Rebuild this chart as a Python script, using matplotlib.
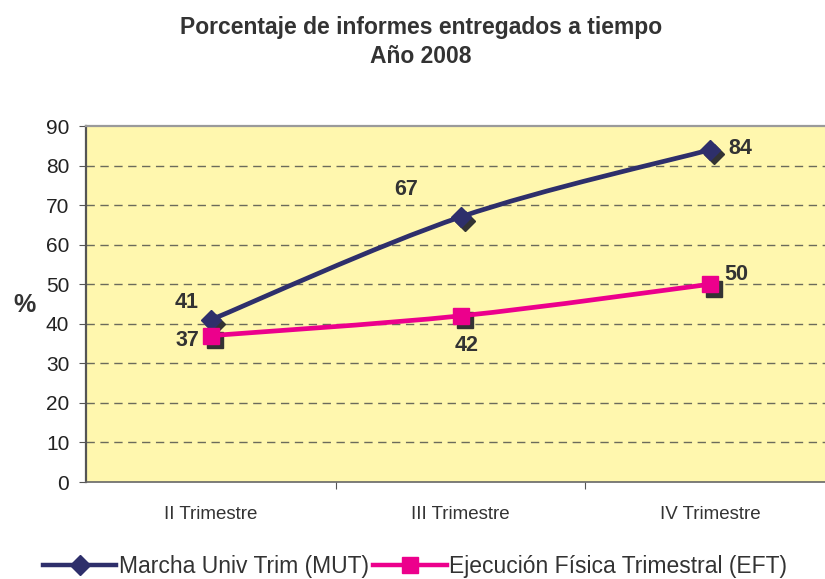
import matplotlib
matplotlib.use("Agg")
import matplotlib.pyplot as plt
from matplotlib.path import Path
from matplotlib.patches import PathPatch
from matplotlib.lines import Line2D
import matplotlib.transforms as mtransforms
import numpy as np

plt.rcParams['font.family'] = ['Liberation Sans', 'DejaVu Sans']

categories = ["II Trimestre", "III Trimestre", "IV Trimestre"]
mut_values = [41, 67, 84]
eft_values = [37, 42, 50]
series_names = ["Marcha Univ Trim (MUT)", "Ejecución Física Trimestral (EFT)"]
y_ticks = [0, 10, 20, 30, 40, 50, 60, 70, 80, 90]
title_text = "Porcentaje de informes entregados a tiempo\nAño 2008"

NAVY = "#2E2F6B"
PINK = "#EC008C"
SHADOW = "#333333"
TEXT = "#333333"
BG = "#FFF7AE"

fig = plt.figure(figsize=(8.25, 5.79), dpi=100)
ax = fig.add_axes([86/825, 97/579, (835-86)/825, (482-126)/579])
ax.set_facecolor(BG)
ax.set_xlim(-0.5, 2.5)
ax.set_ylim(0, 90)

x = np.arange(len(categories))


def smooth_path(xs, ys):
    pts = np.column_stack([xs, ys]).astype(float)
    n = len(pts)
    verts = [pts[0]]
    codes = [Path.MOVETO]
    for i in range(n - 1):
        p0 = pts[i - 1] if i > 0 else pts[i]
        p1 = pts[i]
        p2 = pts[i + 1]
        p3 = pts[i + 2] if i + 2 < n else pts[i + 1]
        c1 = p1 + (p2 - p0) / 6.0
        c2 = p2 - (p3 - p1) / 6.0
        verts += [c1, c2, p2]
        codes += [Path.CURVE4] * 3
    return Path(verts, codes)


# gridlines
for yv in y_ticks[1:-1]:
    ax.axhline(yv, color="#6b6b5b", lw=1.0, ls=(0, (6, 4)), zorder=1)

for vals, col in [(mut_values, NAVY), (eft_values, PINK)]:
    ax.add_patch(PathPatch(smooth_path(x, vals), facecolor="none",
                           edgecolor=col, lw=3.4, zorder=3, capstyle="butt"))

shadow_tr = mtransforms.offset_copy(ax.transData, fig=fig, x=4, y=-4.5, units="dots")
# shadows
ax.plot(x, mut_values, ls="none", marker="D", ms=10.5, color=SHADOW, transform=shadow_tr, zorder=2.5)
ax.plot(x, eft_values, ls="none", marker="s", ms=11.5, color=SHADOW, transform=shadow_tr, zorder=2.5)
# markers
ax.plot(x, mut_values, ls="none", marker="D", ms=10.5, color=NAVY, zorder=4)
ax.plot(x, eft_values, ls="none", marker="s", ms=11.5, color=PINK, zorder=4)

# data labels (offsets in pixels)
mut_offsets = [(-24, 17), (-54, 27), (30, 1)]
eft_offsets = [(-23, -5), (6, -30), (26, 10)]
for vals, offs in [(mut_values, mut_offsets), (eft_values, eft_offsets)]:
    for xi, v, (dx, dy) in zip(x, vals, offs):
        ax.annotate(str(v), (xi, v), xytext=(dx * 0.72, dy * 0.72), textcoords="offset points",
                    ha="center", va="center", fontsize=15.5, fontweight="bold", color=TEXT, zorder=5)

# axes styling
ax.set_yticks(y_ticks)
ax.set_yticklabels([str(v) for v in y_ticks], fontsize=15, color="#222222")
ax.set_xticks([0.5, 1.5], minor=False)
ax.set_xticklabels([])
ax.set_xticks(x, minor=True)
ax.set_xticklabels(categories, minor=True, fontsize=13.5, color="#333333")
ax.tick_params(axis="x", which="minor", length=0, pad=17)
ax.tick_params(axis="x", which="major", length=5, color="#555555", direction="out")
ax.tick_params(axis="y", length=5, color="#555555", direction="out", pad=7)

ax.spines["left"].set_color("#555555")
ax.spines["left"].set_linewidth(1.6)
ax.spines["bottom"].set_color("#666666")
ax.spines["bottom"].set_linewidth(1.2)
ax.spines["top"].set_color("#9a9a9a")
ax.spines["top"].set_linewidth(1.6)
ax.spines["right"].set_visible(False)

fig.text(25/825, 1 - 305/579, "%", fontsize=18, fontweight="bold", color=TEXT,
         ha="center", va="center")

fig.text(421/825, 1 - 42/579, title_text, fontsize=16.5, fontweight="bold", color=TEXT,
         ha="center", va="center", linespacing=1.3)

handles = [
    Line2D([], [], color=NAVY, lw=3.2, marker="D", ms=10),
    Line2D([], [], color=PINK, lw=3.2, marker="s", ms=11),
]
fig.legend(handles, series_names, loc="center", bbox_to_anchor=(415/825, 1 - 567/579),
           ncol=2, frameon=False, fontsize=16.5, handlelength=3.2, handletextpad=0.1,
           columnspacing=0.2, labelcolor=TEXT, borderpad=0, borderaxespad=0)

fig.savefig("out.png", dpi=100)
